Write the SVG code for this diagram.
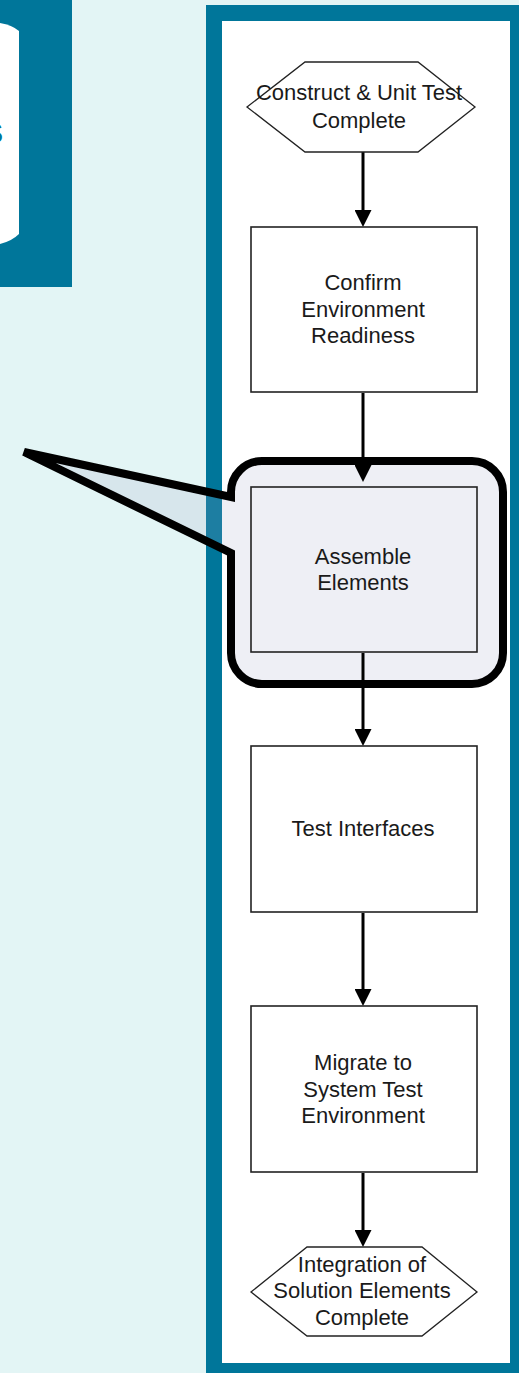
<svg xmlns="http://www.w3.org/2000/svg" width="519" height="1373" viewBox="0 0 519 1373">
  <style>
    .bg { fill: #E3F5F5; }
    .teal { fill: #00769A; }
    .frame { fill: #FFFFFF; stroke: #00769A; stroke-width: 16; }
    .box { fill: #FFFFFF; stroke: #222222; stroke-width: 1.6; }
    .box-clear { fill: none; stroke: #222222; stroke-width: 1.6; }
    .hex { fill: #FFFFFF; stroke: #222222; stroke-width: 1.3; }
    .label { font-family: "Liberation Sans", Arial, sans-serif; font-size: 22px; fill: #1A1A1A; text-anchor: middle; }
    .conn { stroke: #000000; stroke-width: 3; fill: none; marker-end: url(#arrow); }
    .callout { fill: #9FA8C8; fill-opacity: 0.18; stroke: #000000; stroke-width: 8; stroke-linejoin: miter; }
  </style>
  <defs>
    <marker id="arrow" markerUnits="userSpaceOnUse" viewBox="0 0 17 17" refX="10" refY="8.5" markerWidth="17" markerHeight="17" orient="auto">
      <path d="M0,0 L17,8.5 L0,17 Z" fill="#000000"/>
    </marker>
  </defs>

  <!-- page background -->
  <rect class="bg" x="0" y="0" width="519" height="1373"/>

  <!-- panel at top left, partly off the page -->
  <g id="side-panel">
    <rect class="teal" x="0" y="0" width="72" height="287"/>
    <path d="M0,23 Q12,25 19,31 L19,234 Q12,241 0,244 Z" fill="#FFFFFF"/>
    <text x="3" y="143" font-family="Liberation Sans, Arial, sans-serif" font-size="30" font-weight="bold" fill="#00769A" text-anchor="end">S</text>
  </g>

  <!-- framed process column -->
  <rect class="frame" x="214" y="13" width="304" height="1358"/>

  <!-- callout highlighting the assembly step -->
  <g id="callout">
    <path class="callout" d="M262,461 H472 A31,31 0 0 1 503,492 V653 A31,31 0 0 1 472,684 H262 A31,31 0 0 1 231,653 V553 L24,452 L231,497 V492 A31,31 0 0 1 262,461 Z"/>
  </g>

  <!-- connectors -->
  <g id="connectors">
    <line class="conn" x1="363" y1="152" x2="363" y2="220"/>
    <line class="conn" x1="363" y1="393" x2="363" y2="475"/>
    <line class="conn" x1="363" y1="653" x2="363" y2="739"/>
    <line class="conn" x1="363" y1="913" x2="363" y2="999"/>
    <line class="conn" x1="363" y1="1173" x2="363" y2="1240"/>
  </g>

  <!-- process steps -->
  <g id="start">
    <polygon class="hex" points="305,62 418,62 475,107 418,152 305,152 247,107"/>
    <text class="label" x="359" y="100">Construct &amp; Unit Test</text>
    <text class="label" x="359" y="128">Complete</text>
  </g>

  <g id="confirm-environment">
    <rect class="box" x="251" y="227" width="226" height="165"/>
    <text class="label" x="363" y="290">Confirm</text>
    <text class="label" x="363" y="317">Environment</text>
    <text class="label" x="363" y="343">Readiness</text>
  </g>

  <g id="assemble-elements">
    <rect class="box-clear" x="251" y="487" width="226" height="165"/>
    <text class="label" x="363" y="564">Assemble</text>
    <text class="label" x="363" y="590">Elements</text>
  </g>

  <g id="test-interfaces">
    <rect class="box" x="251" y="746" width="226" height="166"/>
    <text class="label" x="363" y="836">Test Interfaces</text>
  </g>

  <g id="migrate">
    <rect class="box" x="251" y="1006" width="226" height="166"/>
    <text class="label" x="363" y="1070">Migrate to</text>
    <text class="label" x="363" y="1097">System Test</text>
    <text class="label" x="363" y="1123">Environment</text>
  </g>

  <g id="end">
    <polygon class="hex" points="307,1247 422,1247 477,1292 422,1336 307,1336 251,1292"/>
    <text class="label" x="362" y="1272">Integration of</text>
    <text class="label" x="362" y="1298">Solution Elements</text>
    <text class="label" x="362" y="1325">Complete</text>
  </g>
</svg>
